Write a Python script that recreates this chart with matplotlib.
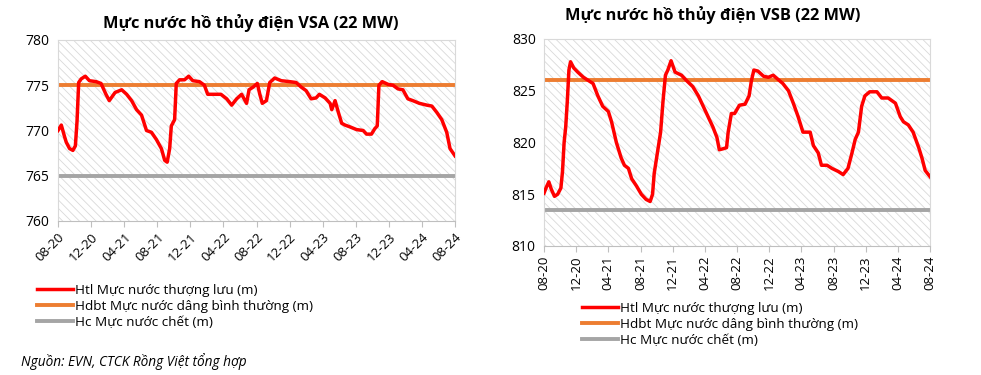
import matplotlib
matplotlib.use("Agg")
import matplotlib.pyplot as plt
from matplotlib.patches import Rectangle

# ---- data (month index from 08-2020) ----
vsa_t = [0, 0.4, 0.8, 1.0, 1.4, 1.8, 2.1, 2.3, 2.5, 2.8, 3.3, 3.8, 4.6, 5.2, 5.8, 6.2, 6.9, 7.7, 8.3,
         8.9, 9.5, 10.1, 10.7, 11.3, 11.9, 12.5, 12.9, 13.2, 13.5, 13.7, 14.1, 14.3, 14.7, 15.3, 15.8,
         16.3, 17.1, 17.7, 18.1, 18.9, 19.7, 20.4, 21.0, 21.6, 22.2, 22.8, 23.1, 23.6, 24.1, 24.4, 24.7,
         25.2, 25.6, 26.2, 27.0, 28.0, 28.8, 29.4, 30.0, 30.6, 31.2, 31.6, 32.3, 32.9, 33.1, 33.5, 33.9,
         34.3, 34.7, 35.3, 36.1, 36.9, 37.3, 37.9, 38.3, 38.6, 38.8, 39.2, 39.9, 40.5, 41.1, 41.7, 42.3,
         42.9, 43.7, 44.6, 45.2, 45.8, 46.4, 47.0, 47.4, 48.0]
vsa_htl = [770.0, 770.6, 769.3, 768.7, 768.0, 767.8, 768.3, 771.0, 775.3, 775.7, 776.0, 775.5, 775.4,
           775.2, 774.0, 773.3, 774.2, 774.5, 774.0, 773.3, 772.3, 771.7, 770.0, 769.8, 769.0, 768.0,
           766.7, 766.5, 768.0, 770.5, 771.2, 775.2, 775.6, 775.6, 776.0, 775.5, 775.4, 775.0, 774.0,
           774.0, 774.0, 773.5, 772.8, 773.5, 774.0, 773.0, 774.5, 774.8, 775.2, 774.0, 773.0, 773.3,
           775.3, 775.8, 775.5, 775.4, 775.3, 774.8, 774.4, 773.5, 773.6, 774.0, 773.6, 773.0, 772.3,
           773.3, 772.0, 770.8, 770.6, 770.4, 770.1, 770.0, 769.6, 769.6, 770.2, 770.5, 775.0, 775.4,
           775.1, 775.0, 774.6, 774.5, 773.5, 773.3, 773.0, 772.8, 772.7, 772.0, 771.2, 769.8, 768.0,
           767.2]
vsa_hdbt = 775.0
vsa_hc = 765.0

vsb_t = [0, 0.3, 0.6, 0.9, 1.3, 1.7, 2.1, 2.3, 2.5, 2.7, 2.9, 3.1, 3.3, 3.7, 4.2, 4.9, 5.5, 6.1, 6.7,
         7.3, 8.0, 8.4, 9.0, 9.6, 10.0, 10.5, 10.9, 11.5, 12.1, 12.7, 13.2, 13.5, 13.7, 14.1, 14.5, 14.8,
         15.1, 15.4, 15.8, 16.3, 17.1, 17.7, 18.5, 19.2, 19.8, 20.4, 21.0, 21.5, 21.8, 22.3, 22.7, 22.9,
         23.3, 23.7, 24.3, 25.0, 25.5, 25.8, 26.1, 26.6, 27.3, 27.9, 28.5, 29.1, 29.7, 30.4, 31.0, 31.6,
         32.2, 33.1, 33.5, 34.1, 34.5, 35.2, 35.8, 36.6, 37.2, 37.8, 38.3, 38.7, 39.1, 39.5, 39.9, 40.5,
         41.4, 42.0, 42.8, 43.7, 44.3, 44.7, 45.3, 45.9, 46.6, 47.0, 47.4, 48.0]
vsb_htl = [815.1, 815.7, 816.2, 815.5, 814.8, 815.0, 815.6, 817.2, 820.0, 821.5, 824.0, 827.0, 827.8,
           827.2, 826.8, 826.3, 826.0, 825.7, 824.5, 823.5, 823.0, 822.0, 820.0, 818.5, 817.8, 817.5,
           816.5, 815.8, 815.0, 814.5, 814.3, 815.0, 817.0, 819.0, 821.0, 824.0, 826.5, 827.0, 827.9,
           826.8, 826.5, 826.0, 825.4, 824.5, 823.5, 822.5, 821.5, 820.5, 819.3, 819.4, 819.5, 821.0,
           822.8, 822.8, 823.6, 823.7, 824.5, 826.0, 827.0, 826.9, 826.4, 826.3, 826.5, 826.1, 825.7,
           825.0, 823.8, 822.5, 821.0, 821.0, 819.7, 819.0, 817.8, 817.8, 817.5, 817.2, 816.9, 817.5,
           819.0, 820.3, 821.0, 823.5, 824.5, 824.9, 824.9, 824.3, 824.3, 823.8, 822.5, 822.0, 821.7,
           821.0, 819.5, 818.5, 817.3, 816.7]
vsb_hdbt = 826.0
vsb_hc = 813.5

tick_pos = list(range(0, 49, 4))
tick_labels = ["08-20", "12-20", "04-21", "08-21", "12-21", "04-22", "08-22",
               "12-22", "04-23", "08-23", "12-23", "04-24", "08-24"]
legend_labels = ["Htl Mực nước thượng lưu (m)", "Hdbt Mực nước dâng bình thường (m)",
                 "Hc Mực nước chết (m)"]
titles = ["Mực nước hồ thủy điện VSA (22 MW)", "Mực nước hồ thủy điện VSB (22 MW)"]
source = "Nguồn: EVN, CTCK Rồng Việt tổng hợp"

RED = "#ff0000"
ORANGE = "#ed7d31"
GREY = "#a5a5a5"

plt.rcParams['font.family'] = ['Open Sans', 'DejaVu Sans']
plt.rcParams['hatch.linewidth'] = 0.6

fig = plt.figure(figsize=(9.81, 3.75), dpi=100)
W, H = 981, 375

def box(l, t, r, b):
    return [l / W, 1 - b / H, (r - l) / W, (b - t) / H]

def draw(ax, t, htl, hdbt, hc, ylim, yticks, rot):
    ax.add_patch(Rectangle((0, 0), 1, 1, transform=ax.transAxes, facecolor="white",
                           edgecolor="#d9d9d9", hatch="\\\\\\\\", lw=0, zorder=0))
    l1, = ax.plot(t, htl, color=RED, lw=2.5, zorder=3, solid_joinstyle="round")
    l2 = ax.axhline(hdbt, color=ORANGE, lw=2.8, zorder=2)
    l3 = ax.axhline(hc, color=GREY, lw=2.8, zorder=2)
    ax.set_xlim(0, 48)
    ax.set_ylim(*ylim)
    ax.set_yticks(yticks)
    ax.set_xticks(tick_pos)
    if rot == 90:
        ax.set_xticklabels(tick_labels, rotation=90, ha="center", va="top")
    else:
        ax.set_xticklabels(tick_labels, rotation=45, ha="right", va="top", rotation_mode="anchor")
    for s in ["top", "right", "left"]:
        ax.spines[s].set_color("#d9d9d9")
        ax.spines[s].set_linewidth(0.8)
    ax.spines["bottom"].set_color("#bfbfbf")
    ax.tick_params(axis="y", length=0, labelsize=10, pad=6)
    ax.tick_params(axis="x", length=4, color="#bfbfbf", labelsize=9.5, pad=3)
    return [l1, l2, l3]

ax1 = fig.add_axes(box(58, 40, 455, 221))
h1 = draw(ax1, vsa_t, vsa_htl, vsa_hdbt, vsa_hc, (760, 780), [760, 765, 770, 775, 780], 45)
ax2 = fig.add_axes(box(544, 39, 930, 246))
h2 = draw(ax2, vsb_t, vsb_htl, vsb_hdbt, vsb_hc, (810, 830), [810, 815, 820, 825, 830], 90)

fig.text(251 / W, 1 - 23 / H, titles[0], fontsize=11.8, fontweight="bold", ha="center", va="center")
fig.text(713 / W, 1 - 15 / H, titles[1], fontsize=11.8, fontweight="bold", ha="center", va="center")

legfont = dict(size=9.7)
legkw = dict(loc="upper left", frameon=False, handlelength=2.65, handletextpad=0.2,
             labelspacing=0.22, borderpad=0, borderaxespad=0, prop=legfont)
fig.legend(h1, legend_labels, bbox_to_anchor=(37 / W, 1 - 284 / H), **legkw)
fig.legend(h2, legend_labels, bbox_to_anchor=(582 / W, 1 - 302 / H), **legkw)

fig.text(21 / W, 1 - 362 / H, source, fontsize=9.8, style="italic", va="center")

fig.savefig("out.png", dpi=100, facecolor="white")
